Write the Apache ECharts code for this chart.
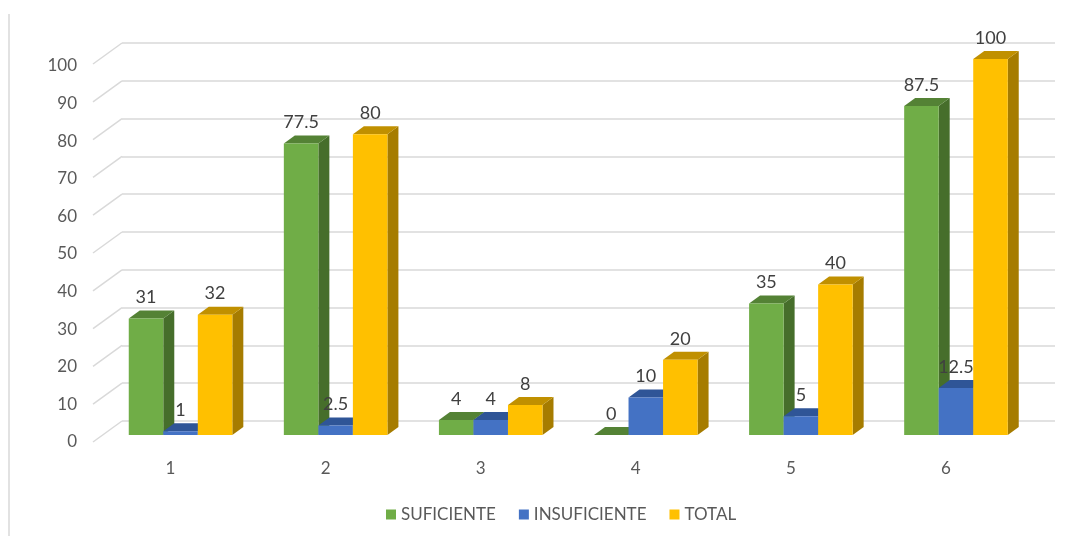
<!DOCTYPE html>
<html><head><meta charset="utf-8">
<script src="https://cdn.jsdelivr.net/npm/echarts@6/dist/echarts.min.js"></script>
<style>html,body{margin:0;padding:0;background:#fff}#c{width:1092px;height:536px}</style>
</head><body><div id="c"></div>
<script>
// ---- data ----
const categories = ['1', '2', '3', '4', '5', '6'];
const seriesNames = ['SUFICIENTE', 'INSUFICIENTE', 'TOTAL'];
const suficiente = [31, 77.5, 4, 0, 35, 87.5];
const insuficiente = [1, 2.5, 4, 10, 5, 12.5];
const total = [32, 80, 8, 20, 40, 100];
const yTicks = [0, 10, 20, 30, 40, 50, 60, 70, 80, 90, 100];

// ---- style ----
const FONT = 'Lato, "Open Sans", sans-serif';
const DEPTH = [11, -8];          // bar depth offset (px)
const WALL = [29, -21];          // floor front edge -> back wall offset (px)
const BAR_FRAC = 0.2226;         // bar width as fraction of category band
const palette = [
  { front: '#70AD47', top: '#548235', side: '#466E2B' },
  { front: '#4472C4', top: '#2F5597', side: '#2F5597' },
  { front: '#FFC000', top: '#C09000', side: '#A67C00' }
];
const valuesBySeries = [suficiente, insuficiente, total];

function barRenderer(s) {
  return function (params, api) {
    const i = api.value(0), v = api.value(1);
    const top = api.coord([i, v]);
    const base = api.coord([i, 0]);
    const band = api.size([1, 0])[0];
    const bw = band * BAR_FRAC;
    const x0 = top[0] + (s - 1.5) * bw, x1 = x0 + bw;
    const yT = top[1], yB = base[1];
    const [dx, dy] = DEPTH;
    const c = palette[s];
    return {
      type: 'group',
      children: [
        { type: 'polygon', shape: { points: [[x1, yT], [x1 + dx, yT + dy], [x1 + dx, yB + dy], [x1, yB]] },
          style: { fill: c.side } },
        { type: 'polygon', shape: { points: [[x0, yT], [x1, yT], [x1 + dx, yT + dy], [x0 + dx, yT + dy]] },
          style: { fill: c.top } },
        { type: 'rect', shape: { x: x0, y: yT, width: bw, height: yB - yT },
          style: { fill: c.front } },
        { type: 'text', x: x0 + bw / 2, y: yT - 21,
          style: { text: String(v), fill: '#404040', font: '18px ' + FONT, align: 'center', verticalAlign: 'middle' } }
      ]
    };
  };
}

const hiddenCat = (gi) => ({ type: 'category', gridIndex: gi, data: categories, show: false });
const hiddenVal = (gi) => ({ type: 'value', gridIndex: gi, min: 0, max: 100, interval: 10, show: false });

const option = {
  animation: false,
  backgroundColor: '#fff',
  graphic: [{ type: 'line', shape: { x1: 9, y1: 14, x2: 9, y2: 536 }, style: { stroke: '#D9D9D9', lineWidth: 1.5 } }],
  legend: {
    data: seriesNames, top: 501, left: 381, icon: 'rect', itemWidth: 10, itemHeight: 10, itemGap: 23,
    textStyle: { color: '#595959', fontSize: 17, fontFamily: FONT }
  },
  grid: [
    { left: 122, right: 37, top: 43, bottom: 115 },   // back wall
    { left: 103, right: 58.5, top: 59, bottom: 101 }, // bar plane
    { left: 93, right: 68.5, top: 66, bottom: 94 }    // front edge
  ],
  xAxis: [
    hiddenCat(0),
    hiddenCat(1),
    { type: 'category', gridIndex: 2, data: categories, axisLine: { show: false }, axisTick: { show: false },
      axisLabel: { color: '#595959', fontSize: 17, fontFamily: FONT, margin: 18 } }
  ],
  yAxis: [
    { type: 'value', gridIndex: 0, min: 0, max: 100, interval: 10, axisLabel: { show: false },
      axisLine: { show: false }, axisTick: { show: false },
      splitLine: { show: true, lineStyle: { color: '#D9D9D9', width: 1.5 } } },
    hiddenVal(1),
    { type: 'value', gridIndex: 2, min: 0, max: 100, interval: 10, axisLine: { show: false }, axisTick: { show: false },
      splitLine: { show: false }, axisLabel: { color: '#595959', fontSize: 17, fontFamily: FONT, margin: 16 } }
  ],
  series: [
    { type: 'custom', name: 'wall', xAxisIndex: 0, yAxisIndex: 0, z: 1, silent: true,
      data: yTicks.map(v => [0, v]), encode: { x: 0, y: 1 },
      renderItem: function (params, api) {
        const y = api.coord([0, api.value(1)])[1];
        const x = params.coordSys.x;
        return { type: 'line', shape: { x1: x, y1: y, x2: x - WALL[0], y2: y - WALL[1] },
                 style: { stroke: '#D9D9D9', lineWidth: 1.5 } };
      } }
  ].concat(valuesBySeries.map((vals, s) => ({
    type: 'custom', name: seriesNames[s], xAxisIndex: 1, yAxisIndex: 1, z: 5 + s,
    itemStyle: { color: palette[s].front },
    data: vals.map((v, i) => [i, v]), encode: { x: 0, y: 1 },
    renderItem: barRenderer(s)
  })))
};

const chart = echarts.init(document.getElementById('c'), null, { renderer: 'canvas' });
chart.setOption(option);
</script></body></html>
